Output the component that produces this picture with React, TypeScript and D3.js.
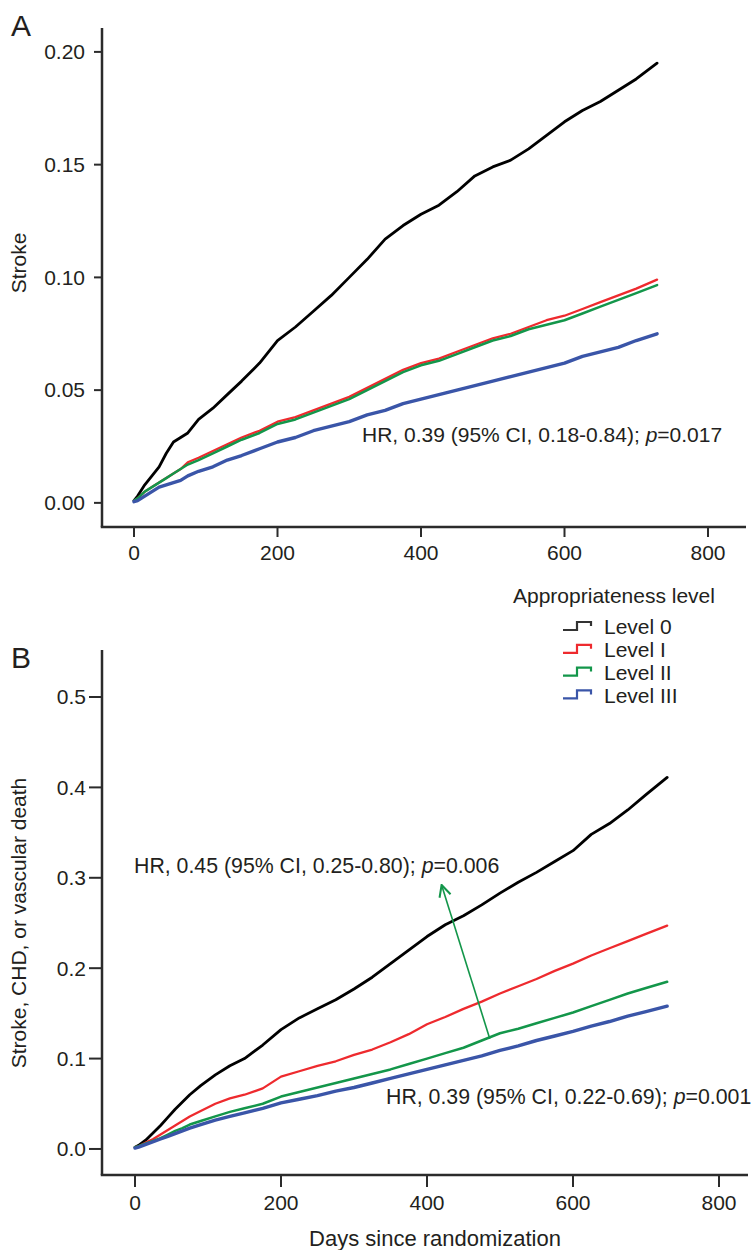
import React from "react";
import * as d3 from "d3";

// ---------- Data ----------
const days = [0, 5, 15, 25, 35, 45, 55, 65, 75, 90, 110, 130, 150, 175, 200, 225, 250, 275, 300, 325, 350, 375, 400, 425, 450, 475, 500, 525, 550, 575, 600, 625, 650, 675, 700, 729];

const strokeLevel0 = [0.001, 0.003, 0.008, 0.012, 0.016, 0.022, 0.027, 0.029, 0.031, 0.037, 0.042, 0.048, 0.054, 0.062, 0.072, 0.078, 0.085, 0.092, 0.1, 0.108, 0.117, 0.123, 0.128, 0.132, 0.138, 0.145, 0.149, 0.152, 0.157, 0.163, 0.169, 0.174, 0.178, 0.183, 0.188, 0.195];
const strokeLevel1 = [0.001, 0.002, 0.005, 0.007, 0.009, 0.011, 0.013, 0.015, 0.018, 0.02, 0.023, 0.026, 0.029, 0.032, 0.036, 0.038, 0.041, 0.044, 0.047, 0.051, 0.055, 0.059, 0.062, 0.064, 0.067, 0.07, 0.073, 0.075, 0.078, 0.081, 0.083, 0.086, 0.089, 0.092, 0.095, 0.099];
const strokeLevel2 = [0.001, 0.002, 0.005, 0.007, 0.009, 0.011, 0.013, 0.015, 0.017, 0.019, 0.022, 0.025, 0.028, 0.031, 0.035, 0.037, 0.04, 0.043, 0.046, 0.05, 0.054, 0.058, 0.061, 0.063, 0.066, 0.069, 0.072, 0.074, 0.077, 0.079, 0.081, 0.084, 0.087, 0.09, 0.093, 0.0966];
const strokeLevel3 = [0.0005, 0.001, 0.003, 0.005, 0.007, 0.008, 0.009, 0.01, 0.012, 0.014, 0.016, 0.019, 0.021, 0.024, 0.027, 0.029, 0.032, 0.034, 0.036, 0.039, 0.041, 0.044, 0.046, 0.048, 0.05, 0.052, 0.054, 0.056, 0.058, 0.06, 0.062, 0.065, 0.067, 0.069, 0.072, 0.075];

const compLevel0 = [0.002, 0.004, 0.01, 0.018, 0.026, 0.035, 0.044, 0.052, 0.06, 0.07, 0.082, 0.092, 0.1, 0.115, 0.132, 0.145, 0.155, 0.165, 0.177, 0.19, 0.205, 0.22, 0.235, 0.248, 0.258, 0.27, 0.283, 0.295, 0.306, 0.318, 0.33, 0.348, 0.36, 0.375, 0.392, 0.411];
const compLevel1 = [0.002, 0.003, 0.007, 0.011, 0.016, 0.021, 0.026, 0.031, 0.036, 0.042, 0.05, 0.056, 0.06, 0.067, 0.08, 0.086, 0.092, 0.097, 0.104, 0.11, 0.118, 0.127, 0.138, 0.146, 0.155, 0.163, 0.172, 0.18, 0.188, 0.197, 0.205, 0.214, 0.222, 0.23, 0.238, 0.247];
const compLevel2 = [0.002, 0.003, 0.006, 0.009, 0.012, 0.016, 0.02, 0.023, 0.027, 0.031, 0.036, 0.041, 0.045, 0.05, 0.058, 0.063, 0.068, 0.073, 0.078, 0.083, 0.088, 0.094, 0.1, 0.106, 0.112, 0.12, 0.128, 0.133, 0.139, 0.145, 0.151, 0.158, 0.165, 0.172, 0.178, 0.185];
const compLevel3 = [0.001, 0.002, 0.005, 0.008, 0.011, 0.014, 0.017, 0.02, 0.023, 0.027, 0.032, 0.036, 0.04, 0.045, 0.051, 0.055, 0.059, 0.064, 0.068, 0.073, 0.078, 0.083, 0.088, 0.093, 0.098, 0.103, 0.109, 0.114, 0.12, 0.125, 0.13, 0.136, 0.141, 0.147, 0.152, 0.158];

const levelNames = ["Level 0", "Level I", "Level II", "Level III"];
const levelColors = ["#000000", "#ee2a2e", "#13964a", "#3a55a8"];
const levelWidths = [2.8, 2.3, 2.5, 3.4];

const xTicks = [0, 200, 400, 600, 800];
const yTicksA = [0, 0.05, 0.1, 0.15, 0.2];
const yTicksB = [0, 0.1, 0.2, 0.3, 0.4, 0.5];

const arrowFrom = [486, 0.122];
const arrowTo = [420, 0.292];

// ---------- Layout ----------
const W = 752;
const H = 1250;
const FONT = "'Liberation Sans', Arial, Helvetica, sans-serif";
const TXT = "#231f20";
const AX = "#2b2b2b";

type PanelProps = {
  top: number;
  bottom: number;
  xLeft: number;
  xRight: number;
  x0px: number;
  x800px: number;
  yDomain: [number, number];
  yTicks: number[];
  yFmt: (v: number) => string;
  series: number[][];
  yTickLen: number;
  yLabGap: number;
  xTickLen: number;
  label: string;
  labelY: number;
  ylab: string;
  ylabY: number;
  children?: (x: d3.ScaleLinear<number, number>, y: d3.ScaleLinear<number, number>) => React.ReactNode;
};

function Panel(p: PanelProps) {
  const x = d3.scaleLinear().domain([0, 800]).range([p.x0px, p.x800px]);
  const y = d3.scaleLinear().domain(p.yDomain).range([p.bottom, p.top]);
  const line = d3
    .line<[number, number]>()
    .x((d) => x(d[0]))
    .y((d) => y(d[1]))
    .curve(d3.curveLinear);
  return (
    <g>
      {p.series.map((vals, i) => (
        <path
          key={i}
          d={line(days.map((dd, j) => [dd, vals[j]] as [number, number])) || ""}
          fill="none"
          stroke={levelColors[i]}
          strokeWidth={levelWidths[i]}
          strokeLinejoin="round"
          strokeLinecap="round"
        />
      ))}
      <line x1={p.xLeft} x2={p.xLeft} y1={p.top} y2={p.bottom} stroke={AX} strokeWidth={2.5} />
      <line x1={p.xLeft - 1.25} x2={p.xRight} y1={p.bottom} y2={p.bottom} stroke={AX} strokeWidth={2.5} />
      {p.yTicks.map((t) => (
        <g key={t}>
          <line x1={p.xLeft - p.yTickLen} x2={p.xLeft} y1={y(t)} y2={y(t)} stroke={AX} strokeWidth={2} />
          <text x={p.xLeft - p.yTickLen - p.yLabGap} y={y(t)} dy="0.35em" textAnchor="end" fontSize={21} fill={TXT}>
            {p.yFmt(t)}
          </text>
        </g>
      ))}
      {xTicks.map((t) => (
        <g key={t}>
          <line x1={x(t)} x2={x(t)} y1={p.bottom} y2={p.bottom + p.xTickLen} stroke={AX} strokeWidth={2} />
          <text x={x(t)} y={p.bottom + p.xTickLen + 16} dy="0.35em" textAnchor="middle" fontSize={21} fill={TXT}>
            {t}
          </text>
        </g>
      ))}
      <text
        transform={`translate(19,${p.ylabY}) rotate(-90)`}
        textAnchor="middle"
        dy="0.35em"
        fontSize={21}
        fill={TXT}
      >
        {p.ylab}
      </text>
      <text x={11} y={p.labelY} fontSize={30} fill={TXT}>
        {p.label}
      </text>
      {p.children && p.children(x, y)}
    </g>
  );
}

export default function App() {
  const legendX = 563;
  const legendY0 = 626;
  const legendDy = 22.8;
  return (
    <svg
      width={W}
      height={H}
      viewBox={`0 0 ${W} ${H}`}
      style={{ position: "absolute", left: 0, top: 0, background: "#fff", fontFamily: FONT }}
    >
      <defs>
        <marker id="arr" viewBox="0 0 10 10" refX="9" refY="5" markerWidth="9" markerHeight="9" orient="auto">
          <path d="M1,1 L9,5 L1,9" fill="none" stroke="#13964a" strokeWidth={1.4} />
        </marker>
      </defs>
      <Panel
        top={28}
        bottom={527}
        xLeft={102}
        xRight={746}
        x0px={134}
        x800px={708}
        yDomain={[-0.0107, 0.2106]}
        yTicks={yTicksA}
        yFmt={(v) => d3.format(".2f")(v)}
        series={[strokeLevel0, strokeLevel1, strokeLevel2, strokeLevel3]}
        yTickLen={8}
        yLabGap={9}
        xTickLen={10}
        label="A"
        labelY={36}
        ylab="Stroke"
        ylabY={263}
      >
        {() => (
          <text x={362} y={435} dy="0.35em" fontSize={21} fill={TXT}>
            HR, 0.39 (95% CI, 0.18-0.84); <tspan fontStyle="italic">p</tspan>=0.017
          </text>
        )}
      </Panel>
      <Panel
        top={650}
        bottom={1175}
        xLeft={102}
        xRight={748}
        x0px={135}
        x800px={719}
        yDomain={[-0.0288, 0.552]}
        yTicks={yTicksB}
        yFmt={(v) => d3.format(".1f")(v)}
        series={[compLevel0, compLevel1, compLevel2, compLevel3]}
        yTickLen={13}
        yLabGap={3}
        xTickLen={12}
        label="B"
        labelY={668}
        ylab="Stroke, CHD, or vascular death"
        ylabY={923}
      >
        {(x, y) => (
          <g>
            <line
              x1={x(arrowFrom[0])}
              y1={y(arrowFrom[1])}
              x2={x(arrowTo[0])}
              y2={y(arrowTo[1])}
              stroke="#13964a"
              strokeWidth={1.6}
              markerEnd="url(#arr)"
            />
            <text x={134} y={866} dy="0.35em" fontSize={21.3} fill={TXT}>
              HR, 0.45 (95% CI, 0.25-0.80); <tspan fontStyle="italic">p</tspan>=0.006
            </text>
            <text x={386} y={1097} dy="0.35em" fontSize={21.3} fill={TXT}>
              HR, 0.39 (95% CI, 0.22-0.69); <tspan fontStyle="italic">p</tspan>=0.001
            </text>
            <text x={435} y={1238} dy="0.35em" textAnchor="middle" fontSize={22} fill={TXT}>
              Days since randomization
            </text>
          </g>
        )}
      </Panel>
      <text x={513} y={596} dy="0.35em" fontSize={21} fill={TXT}>
        Appropriateness level
      </text>
      {levelNames.map((n, i) => {
        const cy = legendY0 + i * legendDy;
        return (
          <g key={n}>
            <path
              d={`M${legendX},${cy + 4} H${legendX + 14} V${cy - 4} H${legendX + 28} V${cy}`}
              fill="none"
              stroke={levelColors[i] === "#000000" ? "#333" : levelColors[i]}
              strokeWidth={2.2}
            />
            <text x={604} y={cy + 1} dy="0.35em" fontSize={21} fill={TXT}>
              {n}
            </text>
          </g>
        );
      })}
    </svg>
  );
}
